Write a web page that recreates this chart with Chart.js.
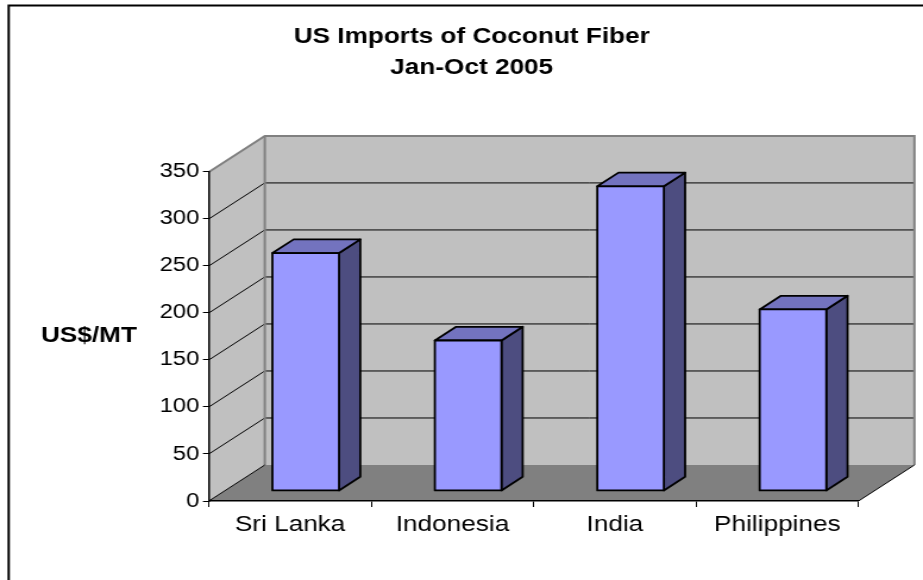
<!DOCTYPE html>
<html>
<head>
<meta charset="utf-8">
<script src="https://cdn.jsdelivr.net/npm/chart.js@4/dist/chart.umd.min.js"></script>
<style>
  html, body { margin: 0; padding: 0; background: #fff; overflow: hidden; }
</style>
</head>
<body>
<!-- canvas is drawn narrower and stretched, like the original picture -->
<canvas id="chart" width="776" height="580" style="display:block;width:923px;height:580px"></canvas>
<script>
const categories = ['Sri Lanka', 'Indonesia', 'India', 'Philippines'];
const pricePerTon = [253, 160, 324, 193];
const yTicks = [0, 50, 100, 150, 200, 250, 300, 350];
const titleLines = ['US Imports of Coconut Fiber', 'Jan-Oct 2005'];
const yAxisTitle = 'US$/MT';

/* ── look of the fake 3D box ───────────────────────────── */
const FONT = '"Liberation Sans", Arial, sans-serif';
const DEPTH = { dx: 47, dy: -36 };       // full depth of the floor
const BAR_FRONT = 0.28, BAR_BACK = 0.66;  // where bars sit in depth
const COLORS = {
  wall: '#c0c0c0', wallEdge: '#808080', floor: '#808080',
  front: '#9999ff', top: '#7373bf', side: '#4d4d80'
};

const box3d = {
  id: 'box3d',
  beforeDraw(chart) {
    const { ctx, scales: { x, y } } = chart;
    const x0 = x.left, x1 = x.right;
    const top = y.getPixelForValue(yTicks[yTicks.length - 1]);
    const bottom = y.getPixelForValue(0);
    const { dx, dy } = DEPTH;

    ctx.save();
    // outer frame (runs off the right and bottom edge)
    ctx.strokeStyle = '#000';
    ctx.lineWidth = 2;
    ctx.strokeRect(7.3, 5.5, chart.width + 50, chart.height + 50);

    // back wall + side wall
    ctx.fillStyle = COLORS.wall;
    ctx.fillRect(x0 + dx, top + dy, x1 - x0, bottom - top);
    ctx.beginPath();
    ctx.moveTo(x0, top);
    ctx.lineTo(x0 + dx, top + dy);
    ctx.lineTo(x0 + dx, bottom + dy);
    ctx.lineTo(x0, bottom);
    ctx.closePath();
    ctx.fill();

    // gridlines on both walls
    ctx.strokeStyle = '#000';
    ctx.lineWidth = 1;
    yTicks.slice(1, -1).forEach(v => {
      const py = y.getPixelForValue(v);
      ctx.beginPath();
      ctx.moveTo(x0, py);
      ctx.lineTo(x0 + dx, py + dy);
      ctx.lineTo(x1 + dx, py + dy);
      ctx.stroke();
    });

    // floor
    ctx.fillStyle = COLORS.floor;
    ctx.beginPath();
    ctx.moveTo(x0, bottom);
    ctx.lineTo(x1, bottom);
    ctx.lineTo(x1 + dx, bottom + dy);
    ctx.lineTo(x0 + dx, bottom + dy);
    ctx.closePath();
    ctx.fill();

    // wall edges
    ctx.strokeStyle = COLORS.wallEdge;
    ctx.lineWidth = 2;
    ctx.beginPath();
    ctx.moveTo(x0, top);
    ctx.lineTo(x0 + dx, top + dy);
    ctx.lineTo(x1 + dx, top + dy);
    ctx.lineTo(x1 + dx, bottom + dy);
    ctx.moveTo(x0 + dx, top + dy);
    ctx.lineTo(x0 + dx, bottom + dy);
    ctx.stroke();

    ctx.strokeStyle = '#000';
    ctx.lineWidth = 1;
    ctx.beginPath();
    ctx.moveTo(x0, bottom);
    ctx.lineTo(x0 + dx, bottom + dy);
    ctx.moveTo(x1, bottom);
    ctx.lineTo(x1 + dx, bottom + dy);
    ctx.stroke();

    // horizontal y axis title
    ctx.fillStyle = '#000';
    ctx.font = 'bold 22px ' + FONT;
    ctx.textAlign = 'center';
    ctx.textBaseline = 'middle';
    ctx.fillText(yAxisTitle, 74.8, 336);
    ctx.restore();
  },

  afterDatasetsDraw(chart) {
    const { ctx } = chart;
    const { dx, dy } = DEPTH;
    const fx = dx * BAR_FRONT, fy = dy * BAR_FRONT;
    const bx = dx * BAR_BACK, by = dy * BAR_BACK;

    ctx.save();
    ctx.strokeStyle = '#000';
    ctx.lineWidth = 1.8;
    ctx.lineJoin = 'round';
    chart.getDatasetMeta(0).data.forEach(bar => {
      const { x, y, base, width } = bar.getProps(['x', 'y', 'base', 'width'], true);
      const l = x - width / 2, r = x + width / 2;

      const face = (pts, color) => {
        ctx.beginPath();
        pts.forEach(([px, py], i) => i ? ctx.lineTo(px, py) : ctx.moveTo(px, py));
        ctx.closePath();
        ctx.fillStyle = color;
        ctx.fill();
        ctx.stroke();
      };

      face([[r + fx, y + fy], [r + bx, y + by], [r + bx, base + by], [r + fx, base + fy]], COLORS.side);
      face([[l + fx, y + fy], [l + bx, y + by], [r + bx, y + by], [r + fx, y + fy]], COLORS.top);
      face([[l + fx, y + fy], [r + fx, y + fy], [r + fx, base + fy], [l + fx, base + fy]], COLORS.front);
    });
    ctx.restore();
  }
};

new Chart(document.getElementById('chart'), {
  type: 'bar',
  data: {
    labels: categories,
    datasets: [{
      data: pricePerTon,
      backgroundColor: 'rgba(0,0,0,0)',
      borderWidth: 0,
      barPercentage: 0.41,
      categoryPercentage: 1
    }]
  },
  options: {
    responsive: false,
    devicePixelRatio: 1,
    animation: false,
    events: [],
    layout: { padding: { left: 71.4, right: 54.2, top: 0, bottom: 0 } },
    plugins: {
      legend: { display: false },
      tooltip: { enabled: false },
      title: {
        display: true,
        text: titleLines,
        color: '#000',
        font: { family: FONT, size: 22, weight: 'bold', lineHeight: 1.43 },
        padding: { top: 21, bottom: 88 }
      }
    },
    scales: {
      x: {
        afterFit: s => { s.height = 79; },
        grid: { drawOnChartArea: false, drawTicks: true, tickLength: 6, tickColor: '#000', offset: true },
        border: { color: '#000', width: 1.5 },
        ticks: { color: '#000', font: { family: FONT, size: 22 }, padding: 5, maxRotation: 0, autoSkip: false }
      },
      y: {
        min: 0,
        max: 350,
        afterBuildTicks: s => { s.ticks = yTicks.map(v => ({ value: v })); },
        afterFit: s => { s.width = 104.2; },
        grid: { drawOnChartArea: false, drawTicks: true, tickLength: 5, tickColor: '#000' },
        border: { color: '#000', width: 1.5 },
        ticks: { color: '#000', font: { family: FONT, size: 20 }, padding: 3 }
      }
    }
  },
  plugins: [box3d]
});
</script>
</body>
</html>
